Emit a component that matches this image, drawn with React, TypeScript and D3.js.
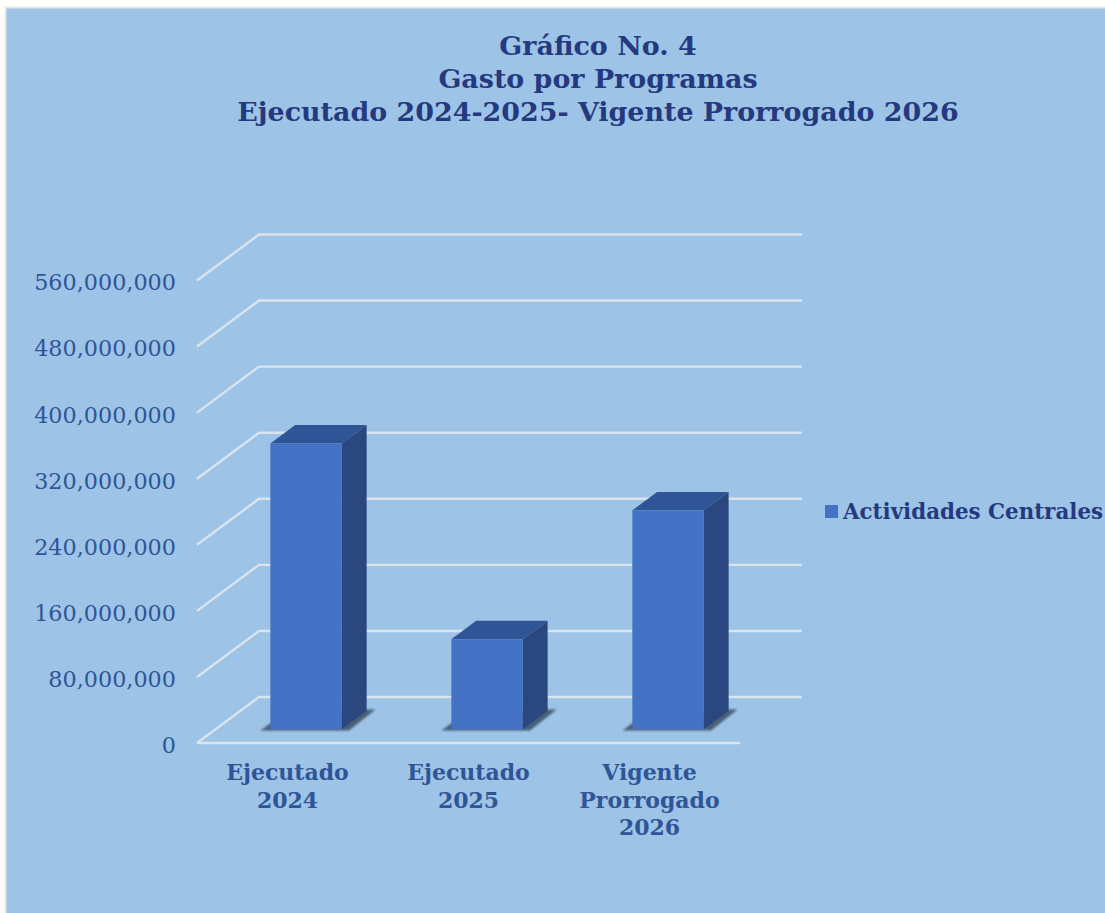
import { useRef, useEffect } from "react";
import * as d3 from "d3";

const titleLines = [
  "Gráfico No. 4",
  "Gasto por Programas",
  "Ejecutado 2024-2025- Vigente Prorrogado 2026",
];
const categories = ["Ejecutado 2024", "Ejecutado 2025", "Vigente Prorrogado 2026"];
const categoryLines = [
  ["Ejecutado", "2024"],
  ["Ejecutado", "2025"],
  ["Vigente", "Prorrogado", "2026"],
];
const values = [346000000, 109000000, 265000000];
const yTicks = [0, 80000000, 160000000, 240000000, 320000000, 400000000, 480000000, 560000000];
const seriesName = "Actividades Centrales";

const FONT = "'DejaVu Serif', 'Liberation Serif', serif";
const NAVY = "#25397f";
const AXIS_BLUE = "#2f5597";
const GRID = "#dbe3ec";

export default function App() {
  const svgRef = useRef<SVGSVGElement>(null);

  useEffect(() => {
    if (!svgRef.current) return;
    const svg = d3.select(svgRef.current);
    svg.selectAll("*").remove();

    const defs = svg.append("defs");
    defs
      .append("filter")
      .attr("id", "shadow-blur")
      .append("feGaussianBlur")
      .attr("stdDeviation", 1.3);

    svg
      .append("rect")
      .attr("x", 5.5)
      .attr("y", 7.5)
      .attr("width", 1105)
      .attr("height", 913)
      .attr("fill", "#9dc3e6")
      .attr("stroke", "#e8e8e4")
      .attr("stroke-width", 2);

    const x = d3.scaleBand().domain(categories).range([197, 740]).paddingInner(0.605).paddingOuter(0.3025);
    const y = d3.scaleLinear().domain([0, 560000000]).range([743, 280.5]);

    // oblique projection: depth 0 is the front of the floor, 1 the back wall
    const depthX = d3.scaleLinear().domain([0, 1]).range([0, 62]);
    const depthY = d3.scaleLinear().domain([0, 1]).range([0, -46]);
    const pt = (px: number, v: number, d: number) => [px + depthX(d), y(v) + depthY(d)] as [number, number];
    const line = d3.line();

    const grid = svg.append("g").attr("fill", "none").attr("stroke", GRID).attr("stroke-width", 2.4);
    yTicks.forEach((t) => {
      const path = [pt(197, t, 0), pt(197, t, 1), pt(740, t, 1)];
      grid.append("path").attr("d", line(path));
    });
    grid.append("path").attr("d", line([pt(197, 0, 0), pt(740, 0, 0)]));

    const yAxis = svg
      .append("g")
      .attr("transform", "translate(176,0)")
      .call(d3.axisLeft(y).tickValues(yTicks).tickSize(0).tickPadding(0).tickFormat(d3.format(",") as any));
    yAxis.select(".domain").remove();
    yAxis
      .selectAll("text")
      .attr("fill", AXIS_BLUE)
      .attr("dy", "0.42em")
      .style("font-family", FONT)
      .style("font-size", "22.3px");

    const FRONT = 0.3;
    const BACK = 0.7;
    const bars = svg
      .selectAll("g.bar")
      .data(categories.map((c, i) => ({ c, v: values[i] })))
      .join("g")
      .attr("class", "bar");

    // soft floor shadow, shows left of and to the right of each bar
    bars
      .append("path")
      .attr("fill", "#34465a")
      .attr("opacity", 0.8)
      .attr("filter", "url(#shadow-blur)")
      .attr("d", (d) => {
        const l = x(d.c)!;
        const r = l + x.bandwidth();
        return (
          line([
            pt(l - 8, 0, FRONT - 0.03),
            pt(r + 9, 0, FRONT - 0.03),
            pt(r + 7, 0, BACK + 0.03),
            pt(r - 10, 0, BACK + 0.03),
            pt(l - 8, 0, FRONT + 0.13),
          ]) + "Z"
        );
      });

    bars
      .append("path")
      .attr("fill", "#2f5597")
      .attr("d", (d) => {
        const l = x(d.c)!;
        const r = l + x.bandwidth();
        return line([pt(l, d.v, FRONT), pt(l, d.v, BACK), pt(r, d.v, BACK), pt(r, d.v, FRONT)]) + "Z";
      });

    bars
      .append("path")
      .attr("fill", "#2a477f")
      .attr("d", (d) => {
        const r = x(d.c)! + x.bandwidth();
        return line([pt(r, 0, FRONT), pt(r, 0, BACK), pt(r, d.v, BACK), pt(r, d.v, FRONT)]) + "Z";
      });

    bars
      .append("path")
      .attr("fill", "#4472c4")
      .attr("d", (d) => {
        const l = x(d.c)!;
        const r = l + x.bandwidth();
        return line([pt(l, 0, FRONT), pt(r, 0, FRONT), pt(r, d.v, FRONT), pt(l, d.v, FRONT)]) + "Z";
      });

    const xLabels = svg
      .selectAll("text.cat")
      .data(categories)
      .join("text")
      .attr("class", "cat")
      .attr("text-anchor", "middle")
      .attr("fill", AXIS_BLUE)
      .style("font-family", FONT)
      .style("font-weight", "bold")
      .style("font-size", "22px");
    xLabels
      .selectAll("tspan")
      .data((_, i) => categoryLines[i])
      .join("tspan")
      .attr("x", function () {
        const c = (this.parentNode as any).__data__ as string;
        return x(c)! + x.bandwidth() / 2;
      })
      .attr("y", (_, i) => 780 + i * 27.5)
      .text((d) => d);

    svg
      .append("g")
      .selectAll("text")
      .data(titleLines)
      .join("text")
      .attr("x", 598)
      .attr("y", (_, i) => 55 + i * 33)
      .attr("text-anchor", "middle")
      .attr("fill", NAVY)
      .style("font-family", FONT)
      .style("font-weight", "bold")
      .style("font-size", "26.9px")
      .text((d) => d);

    const legend = svg.append("g");
    legend
      .append("rect")
      .attr("x", 825)
      .attr("y", 505)
      .attr("width", 13)
      .attr("height", 13)
      .attr("fill", "#4472c4");
    legend
      .append("text")
      .attr("x", 843)
      .attr("y", 519)
      .attr("fill", NAVY)
      .style("font-family", FONT)
      .style("font-weight", "bold")
      .style("font-size", "21.4px")
      .text(seriesName);
  }, []);

  return (
    <svg
      ref={svgRef}
      width={1105}
      height={913}
      style={{ position: "absolute", left: 0, top: 0, display: "block", background: "#fefdf9" }}
    />
  );
}
